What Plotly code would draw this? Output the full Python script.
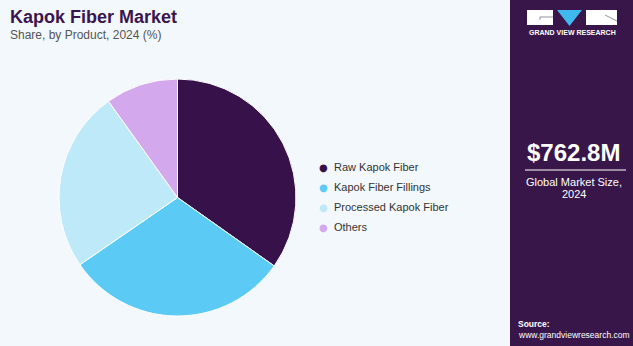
import plotly.graph_objects as go

categories = ["Raw Kapok Fiber", "Kapok Fiber Fillings", "Processed Kapok Fiber", "Others"]
shares = [34.8, 30.6, 24.7, 9.9]
colors = ["#37124A", "#5BCBF5", "#BEE9F9", "#D4A8EC"]

title = "Kapok Fiber Market"
subtitle = "Share, by Product, 2024 (%)"
market_size = "$762.8M"
market_label_1 = "Global Market Size,"
market_label_2 = "2024"

W, H = 633, 346
BG = "#F3F8FC"
PANEL = "#381649"
FONT = "Liberation Sans, Arial"


def px(x):
    return x / W


def py(y):
    return 1 - y / H


fig = go.Figure()

cx, cy, r = 177.5, 197.5, 118.5
fig.add_trace(go.Pie(
    labels=categories, values=shares, sort=False, direction="clockwise", rotation=0,
    marker=dict(colors=colors, line=dict(color="white", width=1)),
    textinfo="none", hoverinfo="label+percent", showlegend=False,
    domain=dict(x=[px(cx - r), px(cx + r)], y=[py(cy + r), py(cy - r)]),
))

shapes = [
    dict(type="rect", xref="paper", yref="paper", x0=px(510), x1=1, y0=0, y1=1,
         fillcolor=PANEL, line=dict(width=0), layer="below"),
    # logo
    dict(type="rect", xref="paper", yref="paper", x0=px(527), x1=px(553), y0=py(25), y1=py(10),
         fillcolor="white", line=dict(width=0)),
    dict(type="path", xref="paper", yref="paper",
         path=f"M {px(557)} {py(10)} L {px(582)} {py(10)} L {px(569.5)} {py(26)} Z",
         fillcolor="#3FB9EE", line=dict(width=0)),
    dict(type="rect", xref="paper", yref="paper", x0=px(586), x1=px(617), y0=py(25), y1=py(10),
         fillcolor="white", line=dict(width=0)),
    dict(type="line", xref="paper", yref="paper", x0=px(540), x1=px(553), y0=py(17), y1=py(17),
         line=dict(color="#9a8fa3", width=1)),
    dict(type="line", xref="paper", yref="paper", x0=px(540), x1=px(540), y0=py(17), y1=py(20),
         line=dict(color="#9a8fa3", width=1)),
    dict(type="line", xref="paper", yref="paper", x0=px(605), x1=px(617), y0=py(15), y1=py(21),
         line=dict(color="#9a8fa3", width=1)),
    # underline for market size
    dict(type="line", xref="paper", yref="paper", x0=px(525), x1=px(626), y0=py(170), y1=py(170),
         line=dict(color="white", width=1)),
]

annotations = [
    dict(text=f"<b>{title}</b>", x=px(8), y=py(17), xref="paper", yref="paper",
         xanchor="left", yanchor="middle", showarrow=False,
         font=dict(family=FONT, size=18, color="#3A1550")),
    dict(text=subtitle, x=px(8), y=py(35), xref="paper", yref="paper",
         xanchor="left", yanchor="middle", showarrow=False,
         font=dict(family=FONT, size=12, color="#555555")),
    dict(text="<b>GRAND VIEW RESEARCH</b>", x=px(572), y=py(33), xref="paper", yref="paper",
         xanchor="center", yanchor="middle", showarrow=False,
         font=dict(family=FONT, size=7, color="white")),
    dict(text=f"<b>{market_size}</b>", x=px(573.5), y=py(153), xref="paper", yref="paper",
         xanchor="center", yanchor="middle", showarrow=False,
         font=dict(family=FONT, size=24, color="white")),
    dict(text=market_label_1, x=px(573.5), y=py(182), xref="paper", yref="paper",
         xanchor="center", yanchor="middle", showarrow=False,
         font=dict(family=FONT, size=11, color="white")),
    dict(text=market_label_2, x=px(573.5), y=py(194), xref="paper", yref="paper",
         xanchor="center", yanchor="middle", showarrow=False,
         font=dict(family=FONT, size=11, color="white")),
    dict(text="<b>Source:</b>", x=px(516), y=py(324), xref="paper", yref="paper",
         xanchor="left", yanchor="middle", showarrow=False, align="left",
         font=dict(family=FONT, size=8.5, color="white")),
    dict(text="www.grandviewresearch.com", x=px(516), y=py(335), xref="paper", yref="paper",
         xanchor="left", yanchor="middle", showarrow=False, align="left",
         font=dict(family=FONT, size=8.5, color="white")),
]

# legend entries (circle marker + label)
legend_top, legend_step = 167, 20
for i, (cat, col) in enumerate(zip(categories, colors)):
    yy = legend_top + i * legend_step
    annotations.append(dict(text="●", x=px(323), y=py(yy), xref="paper", yref="paper",
                            xanchor="center", yanchor="middle", showarrow=False,
                            font=dict(family="DejaVu Sans", size=10, color=col)))
    annotations.append(dict(text=cat, x=px(332), y=py(yy), xref="paper", yref="paper",
                            xanchor="left", yanchor="middle", showarrow=False,
                            font=dict(family=FONT, size=11, color="#333333")))

fig.update_layout(
    width=W, height=H,
    margin=dict(l=0, r=0, t=0, b=0),
    paper_bgcolor=BG, plot_bgcolor=BG,
    shapes=shapes, annotations=annotations,
)

fig.write_html("out.html")
